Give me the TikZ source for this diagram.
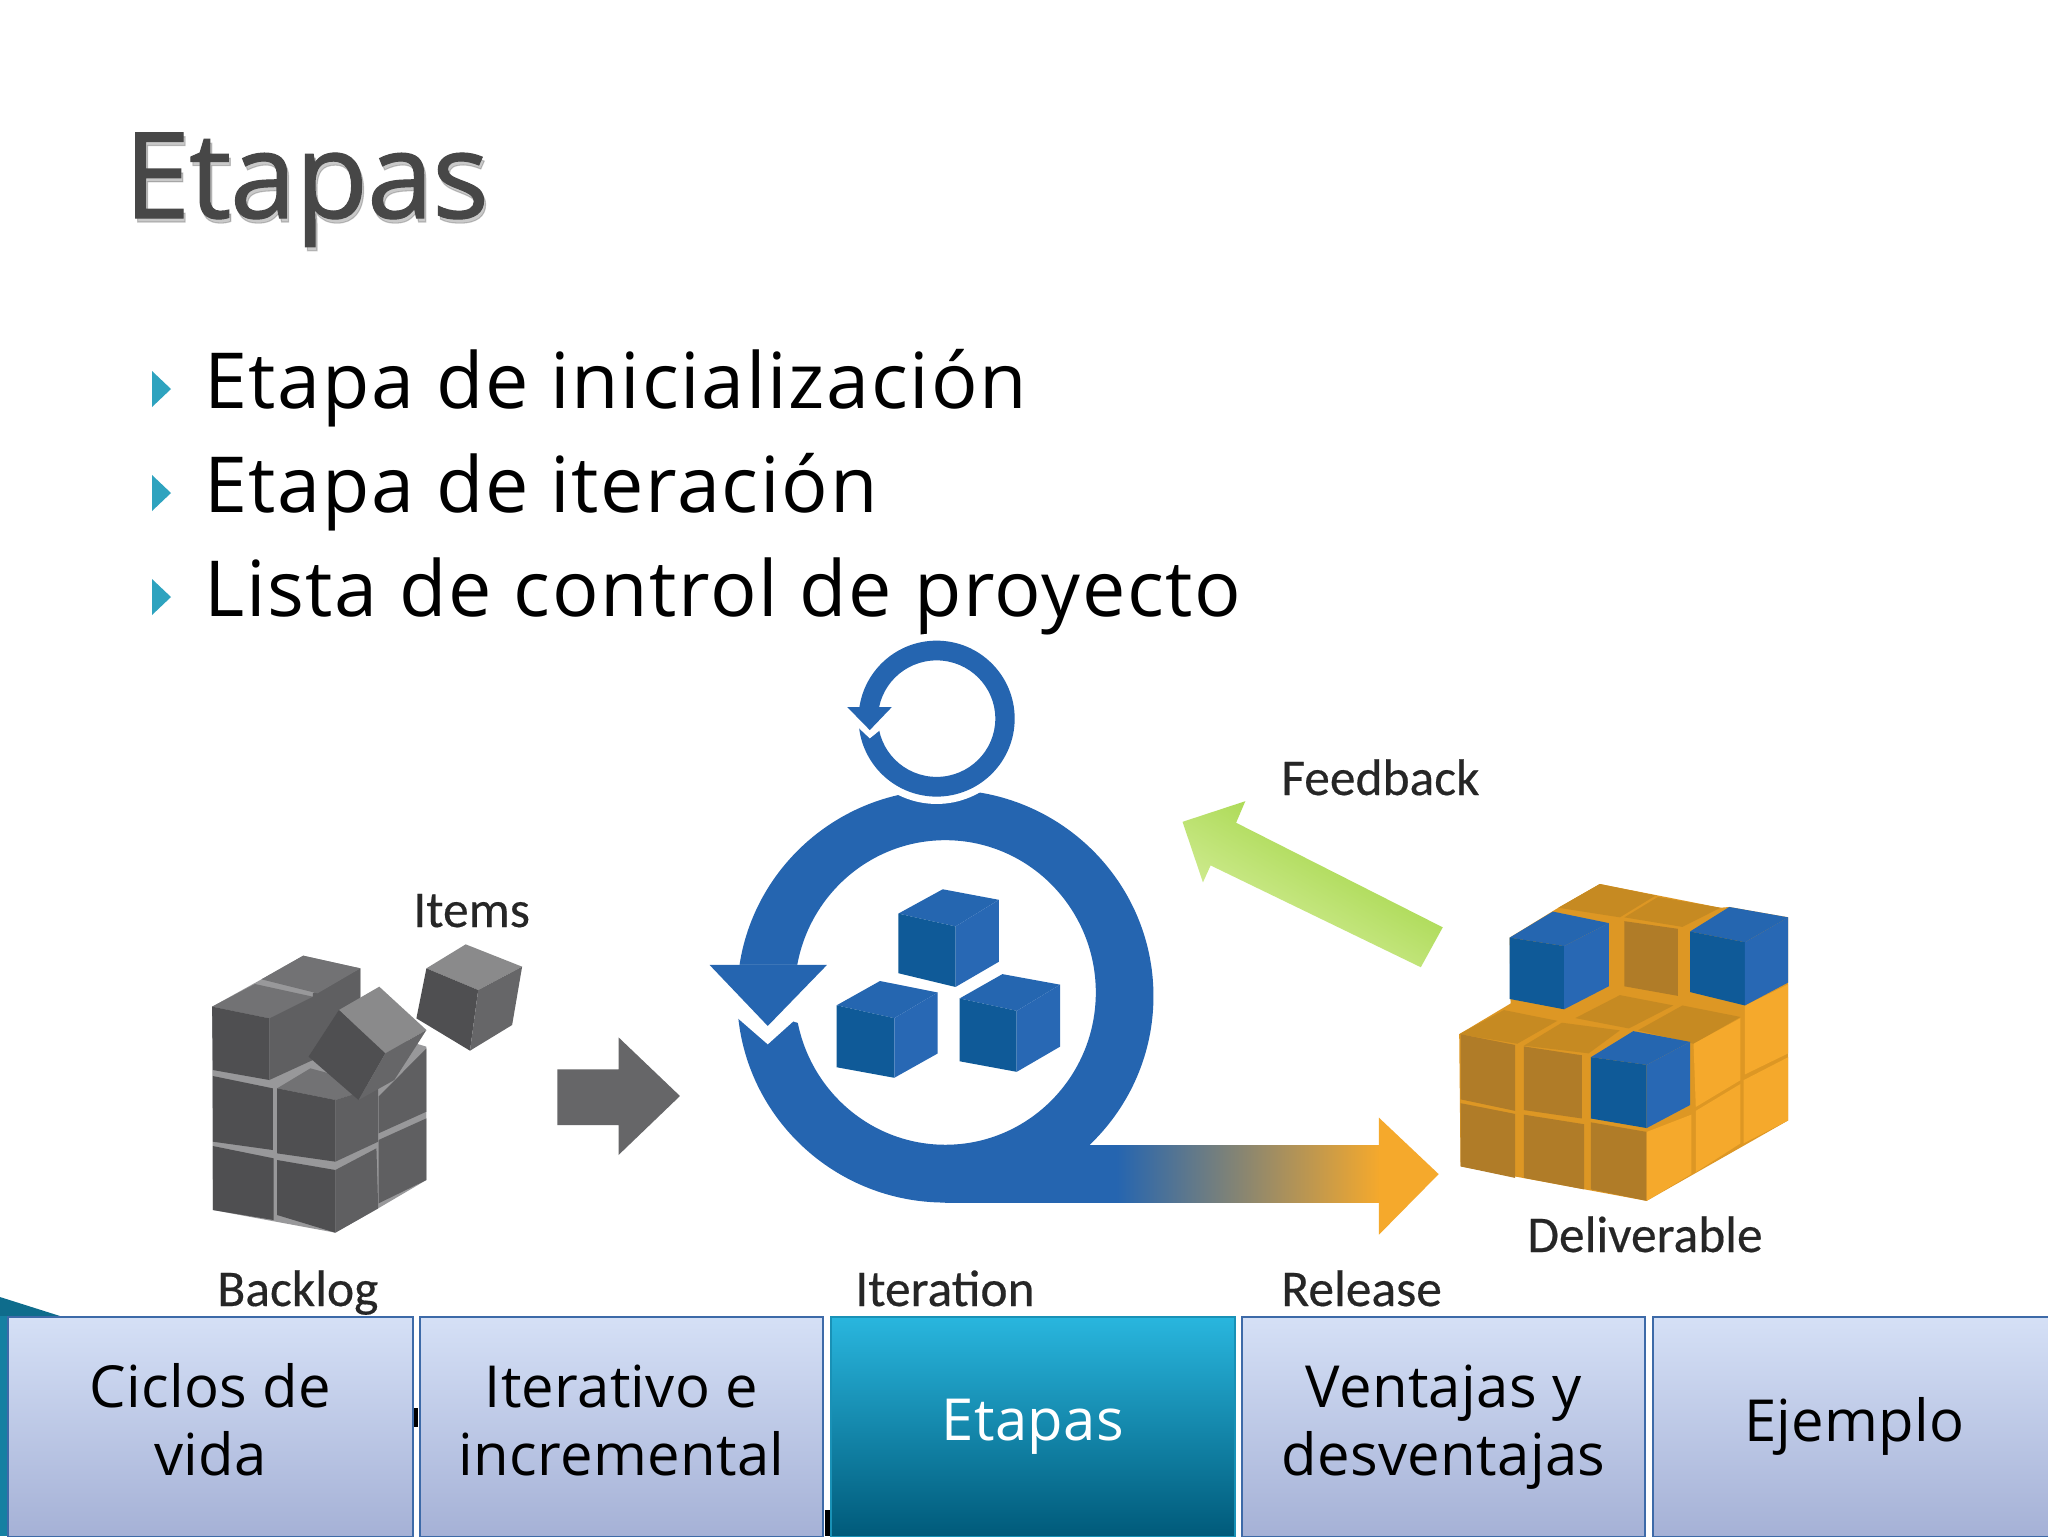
\documentclass[tikz,border=0pt]{standalone}
\usepackage{fontspec}
\setmainfont{Open Sans}
\newfontfamily\labfont[FakeBold=0.35]{Carlito}
\newfontfamily\titlefont[FakeBold=0.9,LetterSpace=-1.1]{Open Sans}
\newfontfamily\bulfont[LetterSpace=2.15]{Open Sans}
\newfontfamily\tabfont[LetterSpace=0.6]{Open Sans}
\usetikzlibrary{calc}
\definecolor{gT}{HTML}{8A8A8B}\definecolor{gL}{HTML}{4F4F51}\definecolor{gR}{HTML}{666668}
\definecolor{uT}{HTML}{727274}\definecolor{uL}{HTML}{4F4F51}\definecolor{uR}{HTML}{5F5F61}
\definecolor{bT}{HTML}{2566B0}\definecolor{bL}{HTML}{0F5A98}\definecolor{bR}{HTML}{2868B4}
\definecolor{oT}{HTML}{C68A22}\definecolor{oL}{HTML}{B07C28}\definecolor{oR}{HTML}{F5A92C}\definecolor{oG}{HTML}{DD9724}
\definecolor{ringblue}{HTML}{2565B0}
\definecolor{midgrad}{HTML}{9A8080}
\definecolor{arrowgreenA}{HTML}{98D034}\definecolor{arrowgreenB}{HTML}{DDF2A8}
\definecolor{seam}{HTML}{98989A}
\definecolor{teal}{HTML}{0E6C8C}\definecolor{tealb}{HTML}{1580A2}
\newcommand\qcube[8]{%
 \fill[#1T] (#2)--(#3)--(#4)--(#5)--cycle;
 \fill[#1L] (#2)--(#5)--(#6)--(#7)--cycle;
 \fill[#1R] (#5)--(#4)--(#8)--(#6)--cycle;}
\tikzset{
 lab/.style={inner sep=0,anchor=base west,text=black!85,font=\labfont\fontsize{29.3}{34}\selectfont},
 bul/.style={inner sep=0,anchor=base west,text=black,font=\bulfont\fontsize{44}{50}\selectfont},
 tick/.style={fill=bultri,draw=none},
 tabbox/.style={draw=tabline,line width=1.1pt,top color=tabtop,bottom color=tabbot,anchor=north west,
   minimum width=229.4pt,minimum height=125pt,inner sep=0,align=center,
   font=\tabfont\fontsize{33}{38.7}\selectfont,text=black},
 tabon/.style={tabbox,draw=ontop!60!onbot,top color=ontop,bottom color=onbot,text=white},
}
\definecolor{bultri}{HTML}{2EA3BF}
\definecolor{tabline}{HTML}{3D6AA8}\definecolor{tabtop}{HTML}{D5E0F6}\definecolor{tabbot}{HTML}{A5B1D6}
\definecolor{ontop}{HTML}{29B6DE}\definecolor{onbot}{HTML}{005A7A}
\begin{document}
\begin{tikzpicture}[x=0.02cm,y=-0.02cm]
\useasboundingbox (0,0) rectangle (2048,1536);
\clip (0,0) rectangle (2048,1536);
\fill[white] (0,0) rectangle (2048,1536);
% title
\node[inner sep=0,anchor=base west,text=black!60,text opacity=0.35,font=\titlefont\fontsize{68}{70}\selectfont] (titleshadow) at (125.5,222) {Etapas};
\node[inner sep=0,anchor=base west,text=black!72,font=\titlefont\fontsize{68}{70}\selectfont] (title) at (123.5,218) {Etapas};
% bullets
\foreach \yy/\tt/\nn in {408/Etapa de inicialización/a,512/Etapa de iteración/b,616/Lista de control de proyecto/c}{
 \fill[tick] (152,\yy-37)--(152,\yy-1)--(171,\yy-19)--cycle;
 \node[bul] (bul\nn) at (204,\yy) {\tt};
}
% backlog cubes
\begin{scope}[shift={(180,840)},xscale=1/2.8,yscale=1/3]
 \fill[seam] (90,500)--(228,418)--(345,347)--(505,385)--(505,560)--(690,620)--(690,1020)--(555,1105)--(435,1178)--(92,1110)--cycle;
 \fill[uR] (372,460)--(505,385)--(505,520)--(385,640)--(372,640)--cycle;
 \fill[uT] (228,418)--(345,347)--(505,385)--(385,460)--cycle;
 \qcube{u}{90,500}{210,432}{372,470}{250,535}{250,720}{92,690}{372,660}
 \fill[uL] (92,708)--(260,745)--(260,930)--(92,905)--cycle;
 \fill[uL] (92,918)--(262,955)--(262,1140)--(92,1110)--cycle;
 \fill[uR] (556,770)--(690,625)--(690,815)--(556,880)--cycle;
 \fill[uR] (556,900)--(690,835)--(690,1020)--(556,1090)--cycle;
 \qcube{u}{272,745}{365,685}{555,740}{435,780}{435,965}{272,940}{555,905}
 \fill[uL] (272,960)--(435,990)--(435,1178)--(272,1125)--cycle;
 \fill[uR] (435,990)--(550,925)--(555,1105)--(435,1178)--cycle;
 \qcube{g}{445,510}{558,440}{690,570}{575,640}{500,780}{360,650}{600,720}
 \qcube{g}{690,385}{800,313}{958,380}{835,450}{812,632}{662,535}{930,555}
 \fill[gR] (1057,688)--(1228,688)--(1228,592)--(1400,768)--(1228,945)--(1228,855)--(1057,855)--cycle;
\end{scope}
% iteration
\begin{scope}[shift={(680,620)},xscale=1/1.96,yscale=1/2.18]
 \fill[ringblue,even odd rule] (520,820) ellipse [x radius=408,y radius=450] (520,812) ellipse [x radius=295,y radius=332];
 \fill[ringblue] (520,1145) rectangle (860,1270);
 \shade[left color=ringblue,middle color=midgrad,right color=oR,draw=none] (855,1145) rectangle (1372,1270);
 \fill[oR] (1370,1085)--(1487,1208)--(1370,1340)--cycle;
 \fill[white] (90,752)--(250,752)--(250,885)--(222,875)--(172,925)--(110,865)--(90,865)--cycle;
 \fill[ringblue] (58,752)--(288,752)--(172,885)--cycle;
 \fill[white] (503,215) ellipse [x radius=168,y radius=186];
 \fill[ringblue,even odd rule] (503,215) ellipse [x radius=153,y radius=170] (503,215) ellipse [x radius=115,y radius=127];
 \fill[white] (330,190)--(420,190)--(420,250)--(392,240)--(372,258)--(350,235)--(330,235)--cycle;
 \fill[ringblue] (328,190)--(415,190)--(372,240)--cycle;
 \qcube{b}{428,640}{515,587}{625,610}{540,668}{540,800}{428,770}{625,745}
 \qcube{b}{307,840}{392,787}{505,812}{420,868}{420,998}{307,975}{505,945}
 \qcube{b}{548,825}{632,772}{745,795}{660,852}{660,985}{548,962}{745,930}
 \shade[top color=arrowgreenA,bottom color=arrowgreenB,shading angle=-30,draw=none]
   (985,440)--(1108,395)--(1090,442)--(1495,670)--(1452,757)--(1040,535)--(1025,572)--cycle;
\end{scope}
% deliverable
\begin{scope}[shift={(1140,720)},xscale=1/2.24,yscale=1/2.61]
 \fill[oG] (715,820)--(830,740)--(828,568)--(937,490)--(1030,428)--(1300,490)--(1320,488)--(1452,515)--(1452,1045)--(1135,1255)--(718,1165)--cycle;
 \fill[oT] (937,490)--(1030,428)--(1155,458)--(1075,515)--cycle;
 \fill[oT] (1085,515)--(1160,462)--(1300,490)--(1215,540)--cycle;
 \fill[oL] (1085,525)--(1205,545)--(1205,720)--(1085,695)--cycle;
 \fill[oT] (975,778)--(1075,718)--(1195,745)--(1095,805)--cycle;
 \fill[oT] (1115,810)--(1215,745)--(1345,775)--(1240,845)--cycle;
 \fill[oT] (715,820)--(815,757)--(935,785)--(845,845)--cycle;
 \fill[oT] (860,850)--(945,790)--(1075,810)--(1005,870)--cycle;
 \fill[oL] (718,820)--(840,848)--(840,1020)--(718,990)--cycle;
 \fill[oL] (860,852)--(990,875)--(990,1040)--(860,1018)--cycle;
 \fill[oL] (718,1000)--(840,1028)--(840,1195)--(718,1165)--cycle;
 \fill[oL] (860,1030)--(995,1055)--(995,1225)--(860,1195)--cycle;
 \fill[oL] (1010,1050)--(1135,1075)--(1135,1255)--(1010,1225)--cycle;
 \fill[oR] (1135,1075)--(1235,1030)--(1235,1185)--(1135,1255)--cycle;
 \fill[oR] (1245,1020)--(1345,950)--(1345,1105)--(1245,1180)--cycle;
 \fill[oR] (1352,940)--(1452,880)--(1452,1045)--(1352,1105)--cycle;
 \fill[oR] (1240,845)--(1345,778)--(1345,940)--(1245,1010)--cycle;
 \fill[oR] (1355,745)--(1452,690)--(1452,870)--(1355,925)--cycle;
 \qcube{b}{828,568}{925,500}{1050,530}{950,590}{950,755}{828,728}{1050,695}
 \qcube{b}{1232,552}{1320,488}{1452,515}{1355,580}{1355,745}{1232,710}{1452,685}
 \qcube{b}{1010,880}{1105,812}{1232,840}{1135,900}{1135,1065}{1010,1040}{1232,1005}
\end{scope}
% labels
\node[lab] (items) at (413,927) {Items};
\node[lab] (backlog) at (217,1306) {Backlog};
\node[lab] (iteration) at (855,1306) {Iteration};
\node[lab] (release) at (1281,1306) {Release};
\node[lab] (feedback) at (1281,795) {Feedback};
\node[lab] (deliverable) at (1527,1252) {Deliverable};
% theme remnants
\fill[teal] (0,1297)--(60,1316)--(0,1316)--cycle;
\fill[tealb] (0,1316) rectangle (7,1536);
\fill[black] (413,1408) rectangle (418,1427);
\fill[black] (825,1510) rectangle (830,1536);
% tabs
\node[tabbox,minimum width=230.4pt] (t1) at (7,1316) {Ciclos de\\vida\vphantom{y}};
\node[tabbox] (t2) at (419,1316) {Iterativo e\\incremental\vphantom{y}};
\node[tabon,minimum width=229.9pt] (t3) at (830,1316) {Etapas};
\node[tabbox] (t4) at (1241,1316) {Ventajas y\\desventajas};
\node[tabbox] (t5) at (1652,1316) {Ejemplo};
\end{tikzpicture}
\end{document}
